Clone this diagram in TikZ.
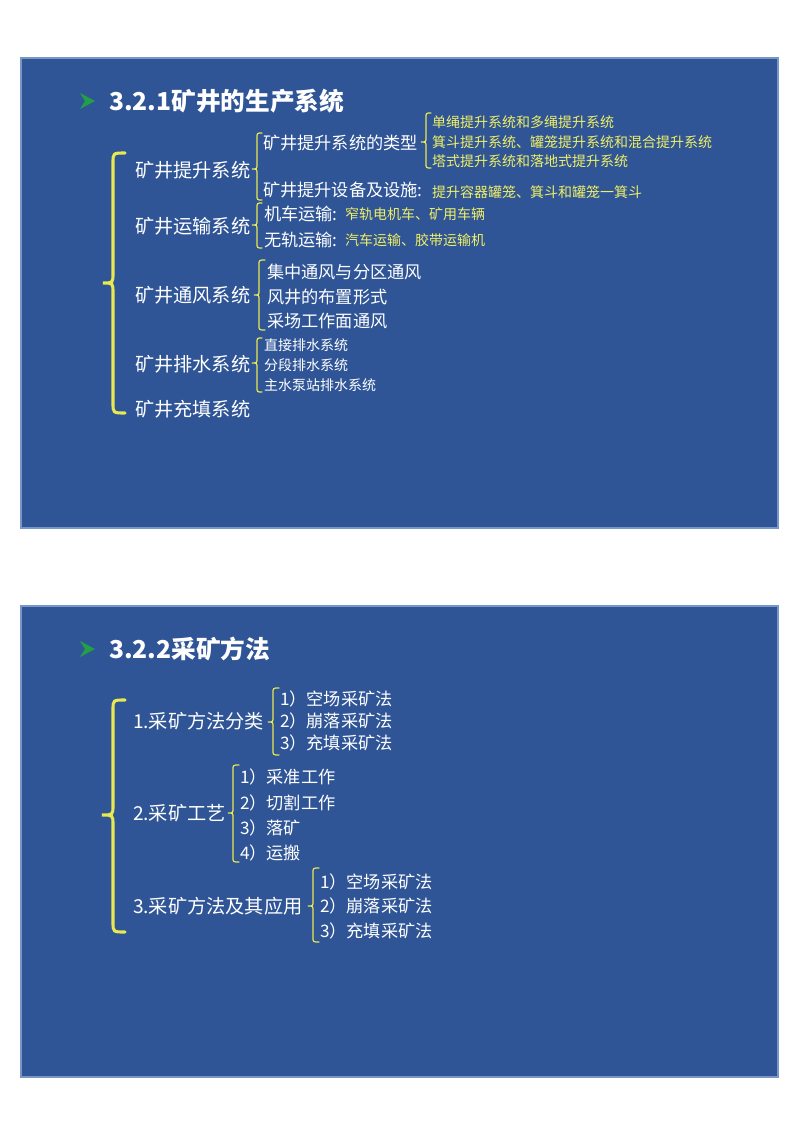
\documentclass[tikz,border=0pt]{standalone}
\usepackage{fontspec}
\setmainfont{Noto Sans CJK SC}
\definecolor{bgblue}{RGB}{47,85,151}
\definecolor{edgeblue}{RGB}{120,150,200}
\definecolor{braceyellow}{RGB}{232,232,80}
\definecolor{txtyellow}{RGB}{240,240,100}
\definecolor{bulletgreen}{RGB}{34,160,70}
\newcommand{\mybrace}[8]{% #1 style, #2 tip x, #3 spine x, #4 end x, #5 top y, #6 tip y, #7 bottom y, #8 radius
  \draw[#1] (#4,#5) .. controls (#3,#5) .. (#3,{#5+#8}) -- (#3,{#6-#8}) .. controls (#3,#6) .. (#2,#6) .. controls (#3,#6) .. (#3,{#6+#8}) -- (#3,{#7-#8}) .. controls (#3,#7) .. (#4,#7);}
\tikzset{
  slide/.style={fill=bgblue, draw=edgeblue, line width=0.8},
  bigbrace/.style={draw=braceyellow, line width=2.3pt, line cap=round},
  smallbrace/.style={draw=braceyellow, line width=0.9pt, line cap=round},
  lab/.style={anchor=west, inner sep=0pt, outer sep=0pt, text=white},
  ttl/.style={lab, font=\bfseries\fontsize{18.5pt}{20pt}\selectfont},
  tone/.style={lab, font=\fontsize{14.4pt}{16pt}\selectfont},
  ttwo/.style={lab, font=\fontsize{12.9pt}{14pt}\selectfont},
  tsmall/.style={lab, font=\fontsize{10.5pt}{12pt}\selectfont},
  tyel/.style={tsmall, text=txtyellow},
  bullet/.style={fill=bulletgreen, draw=none}
}
\begin{document}
\begin{tikzpicture}[x=0.75pt, y=-0.75pt]
\useasboundingbox (0,0) rectangle (800,1132);
% ---------- slide 1 ----------
\fill[slide] (21,58) rectangle (778,528);
\fill[bullet] (80,93) -- (95,101) -- (80,109) -- (85,101) -- cycle;
\node[ttl] (t1) at (109,101) {3.2.1矿井的生产系统};
\mybrace{bigbrace}{103}{113}{125}{153}{283}{413}{10}
\node[tone] (a1) at (135,170) {矿井提升系统};
\node[tone] (a2) at (135,226) {矿井运输系统};
\node[tone] (a3) at (135,295) {矿井通风系统};
\node[tone] (a4) at (135,364) {矿井排水系统};
\node[tone] (a5) at (135,409) {矿井充填系统};
% 提升
\mybrace{smallbrace}{252}{257}{262}{133}{169}{200}{5}
\node[ttwo] (b1) at (263,143) {矿井提升系统的类型};
\mybrace{smallbrace}{421}{426}{431}{113}{142}{168}{5}
\node[tyel] (c1) at (432,122) {单绳提升系统和多绳提升系统};
\node[tyel] (c2) at (432,142) {箕斗提升系统、罐笼提升系统和混合提升系统};
\node[tyel] (c3) at (432,161) {塔式提升系统和落地式提升系统};
\node[ttwo] (b2) at (263,190) {矿井提升设备及设施:};
\node[tyel] (c4) at (432,192) {提升容器罐笼、箕斗和罐笼一箕斗};
% 运输
\mybrace{smallbrace}{252}{257}{262}{203}{225}{248}{5}
\node[ttwo] (b3) at (264,214) {机车运输:};
\node[tyel] (c5) at (345,214) {窄轨电机车、矿用车辆};
\node[ttwo] (b4) at (264,240) {无轨运输:};
\node[tyel] (c6) at (345,240) {汽车运输、胶带运输机};
% 通风
\mybrace{smallbrace}{254}{259}{265}{260}{295}{330}{5}
\node[ttwo] (b5) at (267,272) {集中通风与分区通风};
\node[ttwo] (b6) at (267,297) {风井的布置形式};
\node[ttwo] (b7) at (267,321) {采场工作面通风};
% 排水
\mybrace{smallbrace}{252}{257}{262}{338}{363}{392}{5}
\node[tsmall] (b8) at (264,345) {直接排水系统};
\node[tsmall] (b9) at (264,365) {分段排水系统};
\node[tsmall] (b10) at (264,385) {主水泵站排水系统};
% ---------- slide 2 ----------
\fill[slide] (21,606) rectangle (778,1077);
\fill[bullet] (80,641) -- (95,649) -- (80,657) -- (85,649) -- cycle;
\node[ttl] (t2) at (109,649) {3.2.2采矿方法};
\mybrace{bigbrace}{102}{113}{125}{700}{815}{932}{10}
\node[tone] (d1) at (133,721) {1.采矿方法分类};
\node[tone] (d2) at (133,813) {2.采矿工艺};
\node[tone] (d3) at (133,906) {3.采矿方法及其应用};
\mybrace{smallbrace}{268}{273}{279}{688}{722}{755}{5}
\node[ttwo] (e1) at (280,699) {1）空场采矿法};
\node[ttwo] (e2) at (280,721) {2）崩落采矿法};
\node[ttwo] (e3) at (280,743) {3）充填采矿法};
\mybrace{smallbrace}{228}{233}{239}{765}{813}{862}{5}
\node[ttwo] (f1) at (240,777) {1）采准工作};
\node[ttwo] (f2) at (240,803) {2）切割工作};
\node[ttwo] (f3) at (240,828) {3）落矿};
\node[ttwo] (f4) at (240,853) {4）运搬};
\mybrace{smallbrace}{308}{313}{319}{868}{906}{942}{5}
\node[ttwo] (g1) at (320,882) {1）空场采矿法};
\node[ttwo] (g2) at (320,906) {2）崩落采矿法};
\node[ttwo] (g3) at (320,931) {3）充填采矿法};
\end{tikzpicture}
\end{document}
